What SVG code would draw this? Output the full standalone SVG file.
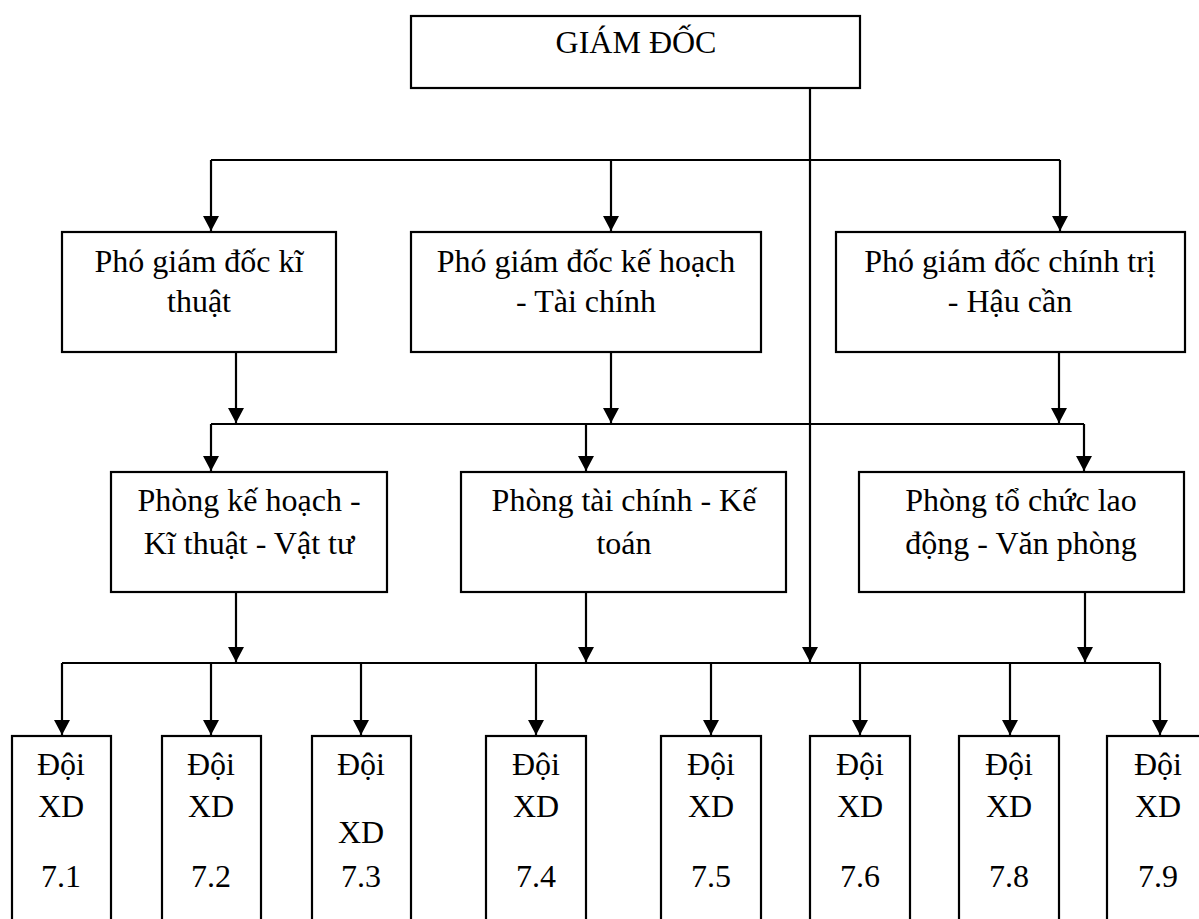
<svg xmlns="http://www.w3.org/2000/svg" width="1199" height="919" viewBox="0 0 1199 919">
<style>
.box{fill:#fff;stroke:#000;stroke-width:2.2}
.t{font-size:32px;fill:#000;text-anchor:middle}
.c{fill:none;stroke:#000;stroke-width:2.2}
.a{marker-end:url(#ah)}
</style>
<defs>
<marker id="ah" markerUnits="userSpaceOnUse" markerWidth="16" markerHeight="16" refX="15" refY="8" orient="auto">
<path d="M0,0 L15,8 L0,16 Z" fill="#000"/>
</marker>
</defs>
<rect width="1199" height="919" fill="#fff"/>
<g id="connectors">
<path class="c a" d="M810,88 V662"/>
<path class="c" d="M211,160 H1060"/>
<path class="c a" d="M211,160 V231"/>
<path class="c a" d="M611,160 V231"/>
<path class="c a" d="M1060,160 V231"/>
<path class="c a" d="M236,352 V423"/>
<path class="c a" d="M611,352 V423"/>
<path class="c a" d="M1059,352 V423"/>
<path class="c" d="M211,424 H1084"/>
<path class="c a" d="M211,424 V471"/>
<path class="c a" d="M586,424 V471"/>
<path class="c a" d="M1084,424 V471"/>
<path class="c a" d="M236,592 V662"/>
<path class="c a" d="M586,592 V662"/>
<path class="c a" d="M1085,592 V662"/>
<path class="c" d="M62,663 H1160"/>
<path class="c a" d="M62,663 V735"/>
<path class="c a" d="M211,663 V735"/>
<path class="c a" d="M361,663 V735"/>
<path class="c a" d="M536,663 V735"/>
<path class="c a" d="M711,663 V735"/>
<path class="c a" d="M860,663 V735"/>
<path class="c a" d="M1010,663 V735"/>
<path class="c a" d="M1160,663 V735"/>
</g>
<g font-family="Liberation Serif, Tinos, Times New Roman, DejaVu Serif, serif">
<g id="giam-doc">
<rect class="box" x="411" y="16" width="449" height="72"/>
<text class="t" x="636" y="53">GIÁM ĐỐC</text>
</g>
<g id="pgd-kythuat">
<rect class="box" x="62" y="232" width="274" height="120"/>
<text class="t" x="199" y="272">Phó giám đốc kĩ</text>
<text class="t" x="199" y="312">thuật</text>
</g>
<g id="pgd-kehoach">
<rect class="box" x="411" y="232" width="350" height="120"/>
<text class="t" x="586" y="272">Phó giám đốc kế hoạch</text>
<text class="t" x="586" y="312">- Tài chính</text>
</g>
<g id="pgd-chinhtri">
<rect class="box" x="836" y="232" width="349" height="120"/>
<text class="t" x="1010" y="272">Phó giám đốc chính trị</text>
<text class="t" x="1010" y="312">- Hậu cần</text>
</g>
<g id="phong-kehoach">
<rect class="box" x="111" y="472" width="276" height="120"/>
<text class="t" x="249" y="511">Phòng kế hoạch -</text>
<text class="t" x="249" y="554">Kĩ thuật - Vật tư</text>
</g>
<g id="phong-taichinh">
<rect class="box" x="461" y="472" width="325" height="120"/>
<text class="t" x="624" y="511">Phòng tài chính - Kế</text>
<text class="t" x="624" y="554">toán</text>
</g>
<g id="phong-tochuc">
<rect class="box" x="859" y="472" width="325" height="120"/>
<text class="t" x="1021" y="511">Phòng tổ chức lao</text>
<text class="t" x="1021" y="554">động - Văn phòng</text>
</g>
<g id="doi-7-1">
<rect class="box" x="12" y="736" width="99" height="200"/>
<text class="t" x="61" y="775">Đội</text>
<text class="t" x="61" y="817">XD</text>
<text class="t" x="61" y="887">7.1</text>
</g>
<g id="doi-7-2">
<rect class="box" x="162" y="736" width="99" height="200"/>
<text class="t" x="211" y="775">Đội</text>
<text class="t" x="211" y="817">XD</text>
<text class="t" x="211" y="887">7.2</text>
</g>
<g id="doi-7-3">
<rect class="box" x="312" y="736" width="99" height="200"/>
<text class="t" x="361" y="775">Đội</text>
<text class="t" x="361" y="843">XD</text>
<text class="t" x="361" y="887">7.3</text>
</g>
<g id="doi-7-4">
<rect class="box" x="486" y="736" width="100" height="200"/>
<text class="t" x="536" y="775">Đội</text>
<text class="t" x="536" y="817">XD</text>
<text class="t" x="536" y="887">7.4</text>
</g>
<g id="doi-7-5">
<rect class="box" x="661" y="736" width="100" height="200"/>
<text class="t" x="711" y="775">Đội</text>
<text class="t" x="711" y="817">XD</text>
<text class="t" x="711" y="887">7.5</text>
</g>
<g id="doi-7-6">
<rect class="box" x="810" y="736" width="100" height="200"/>
<text class="t" x="860" y="775">Đội</text>
<text class="t" x="860" y="817">XD</text>
<text class="t" x="860" y="887">7.6</text>
</g>
<g id="doi-7-8">
<rect class="box" x="959" y="736" width="100" height="200"/>
<text class="t" x="1009" y="775">Đội</text>
<text class="t" x="1009" y="817">XD</text>
<text class="t" x="1009" y="887">7.8</text>
</g>
<g id="doi-7-9">
<rect class="box" x="1107" y="736" width="101" height="200"/>
<text class="t" x="1158" y="775">Đội</text>
<text class="t" x="1158" y="817">XD</text>
<text class="t" x="1158" y="887">7.9</text>
</g>
</g>
</svg>
